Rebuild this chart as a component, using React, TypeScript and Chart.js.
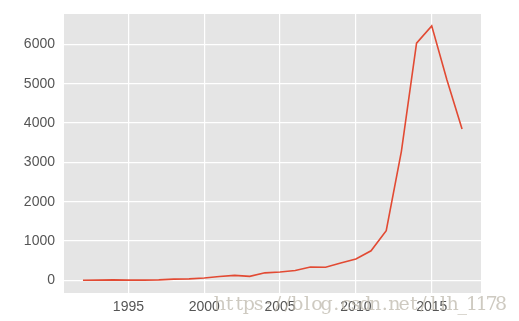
import React, { useEffect, useRef } from "react";
import { Chart, registerables } from "chart.js";

Chart.register(...registerables);

const years = [1992, 1993, 1994, 1995, 1996, 1997, 1998, 1999, 2000, 2001, 2002, 2003, 2004, 2005, 2006, 2007, 2008, 2009, 2010, 2011, 2012, 2013, 2014, 2015, 2016, 2017];
const counts = [0, 5, 10, 5, 5, 10, 30, 35, 60, 95, 125, 100, 190, 210, 250, 340, 330, 440, 540, 750, 1260, 3280, 6030, 6470, 5100, 3850];
const xTicks = [1995, 2000, 2005, 2010, 2015];
const yTicks = [0, 1000, 2000, 3000, 4000, 5000, 6000];
const watermark = "https://blog.csdn.net/llh_1178";

const bgPlugin = {
  id: "bgPlugin",
  beforeDraw(chart: any) {
    const { ctx, chartArea } = chart;
    ctx.save();
    ctx.fillStyle = "#ffffff";
    ctx.fillRect(0, 0, chart.width, chart.height);
    ctx.fillStyle = "#E5E5E5";
    ctx.fillRect(chartArea.left, chartArea.top, chartArea.right - chartArea.left, chartArea.bottom - chartArea.top);
    ctx.restore();
  },
  afterDraw(chart: any) {
    const { ctx } = chart;
    ctx.save();
    ctx.fillStyle = "rgba(190,184,172,0.75)";
    ctx.font = '19px "DejaVu Serif"';
    ctx.textBaseline = "alphabetic";
    ctx.textAlign = "center";
    const x0 = 215;
    const step = 9.7;
    for (let i = 0; i < watermark.length; i++) {
      ctx.fillText(watermark[i], x0 + step * i + step / 2, 310);
    }
    ctx.restore();
  },
};

export default function App() {
  const ref = useRef<HTMLCanvasElement>(null);
  useEffect(() => {
    const prev = document.body.style.margin;
    document.body.style.margin = "0";
    const chart = new Chart(ref.current!, {
      type: "line",
      data: {
        datasets: [
          {
            data: years.map((y, i) => ({ x: y, y: counts[i] })),
            borderColor: "#E24A33",
            borderWidth: 1.6,
            pointRadius: 0,
            tension: 0,
            fill: false,
          },
        ],
      },
      options: {
        responsive: false,
        animation: false,
        layout: { padding: { left: 0, right: 38, top: 14, bottom: 0 } },
        plugins: { legend: { display: false }, tooltip: { enabled: false } },
        scales: {
          x: {
            type: "linear",
            min: 1990.75,
            max: 2018.25,
            afterBuildTicks(scale: any) {
              scale.ticks = xTicks.map((v) => ({ value: v }));
            },
            afterFit(scale: any) {
              scale.height = 28;
              scale.paddingLeft = 0;
              scale.paddingRight = 0;
            },
            grid: { color: "#ffffff", lineWidth: 1.2, drawTicks: false },
            border: { display: false },
            ticks: {
              color: "#555555",
              font: { family: "Liberation Sans", size: 14 },
              padding: 6,
              callback: (v: any) => String(v),
              maxRotation: 0,
            },
          },
          y: {
            type: "linear",
            min: -323,
            max: 6772,
            afterBuildTicks(scale: any) {
              scale.ticks = yTicks.map((v) => ({ value: v }));
            },
            afterFit(scale: any) {
              scale.width = 64;
              scale.paddingTop = 0;
              scale.paddingBottom = 0;
            },
            grid: { color: "#ffffff", lineWidth: 1.2, drawTicks: false },
            border: { display: false },
            ticks: {
              color: "#555555",
              font: { family: "Liberation Sans", size: 14 },
              padding: 9,
              callback: (v: any) => String(v),
            },
          },
        },
      },
      plugins: [bgPlugin],
    });
    return () => {
      chart.destroy();
      document.body.style.margin = prev;
    };
  }, []);
  return <canvas ref={ref} width={519} height={321} style={{ display: "block" }} />;
}
